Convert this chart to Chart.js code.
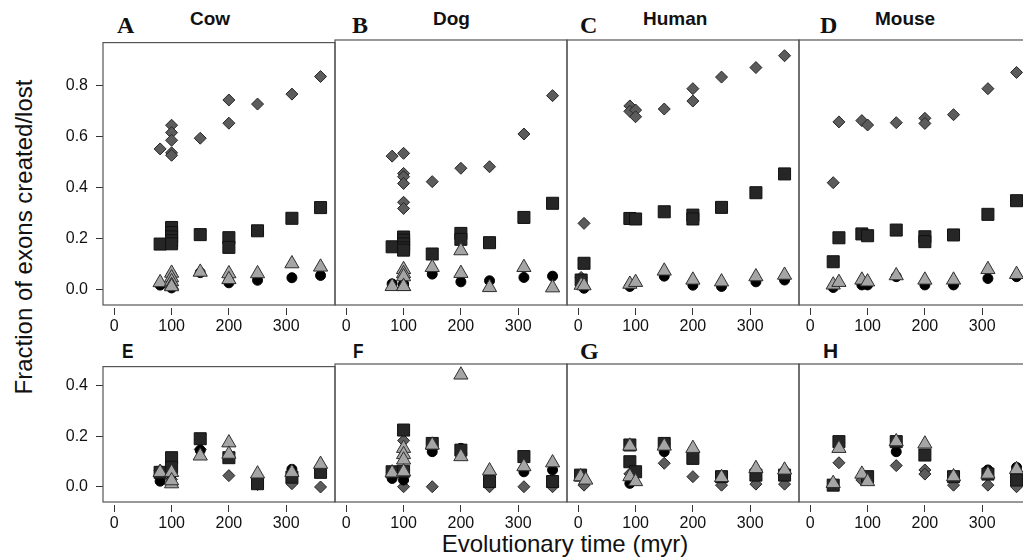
<!DOCTYPE html>
<html lang="en">
<head>
<meta charset="UTF-8">
<title>Fraction of exons created/lost</title>
<script src="https://cdn.jsdelivr.net/npm/chart.js"></script>
<style>
  html, body { margin: 0; padding: 0; overflow: hidden; background: #fff; }
  body { width: 1023px; height: 560px; position: relative; font-family: "Liberation Sans", Arial, sans-serif; color: #111; }
  canvas { position: absolute; }
  .lbl { position: absolute; white-space: nowrap; line-height: 1; }
  .title { font-weight: bold; font-size: 19px; }
  .serif { font-family: "Liberation Serif", serif; font-weight: bold; font-size: 24px; }
  .sans { font-weight: bold; font-size: 21px; }
  .narrow { transform: scaleX(0.82); transform-origin: left top; }
  .axis { font-size: 24px; }
</style>
</head>
<body>

<div class="lbl serif" style="left:117px; top:13px">A</div>
<div class="lbl title" style="left:190px; top:9px">Cow</div>
<div class="lbl serif" style="left:352px; top:13px">B</div>
<div class="lbl title" style="left:433px; top:9px">Dog</div>
<div class="lbl serif" style="left:580px; top:13px">C</div>
<div class="lbl title" style="left:643px; top:9px">Human</div>
<div class="lbl serif" style="left:820px; top:13px">D</div>
<div class="lbl title" style="left:875px; top:9px">Mouse</div>

<div class="lbl sans narrow" style="left:122px; top:340px">E</div>
<div class="lbl sans narrow" style="left:353px; top:340px">F</div>
<div class="lbl serif" style="left:580px; top:339px">G</div>
<div class="lbl sans" style="left:823px; top:340px">H</div>

<div class="lbl axis" style="left:365px; top:532px; width:400px; text-align:center">Evolutionary time (myr)</div>
<div class="lbl axis" style="left:-176px; top:225px; width:400px; height:24px; text-align:center; transform:rotate(-90deg)">Fraction of exons created/lost</div>

<script>
// [time (myr), fraction] for each panel and marker
// top row: A cow, B dog, C human, D mouse
const aDiam = [[80,0.55],[100,0.643],[100,0.614],[100,0.584],[100,0.535],[100,0.525],[150,0.592],[200,0.742],[200,0.651],[250,0.726],[310,0.765],[360,0.834]];
const aSq   = [[80,0.177],[100,0.242],[100,0.222],[100,0.205],[100,0.19],[100,0.178],[150,0.214],[200,0.202],[200,0.164],[250,0.229],[310,0.278],[360,0.32]];
const aTri  = [[80,0.026],[100,0.063],[100,0.045],[100,0.03],[100,0.015],[100,0.01],[150,0.067],[200,0.061],[200,0.038],[250,0.061],[310,0.10],[360,0.087]];
const aCirc = [[80,0.016],[100,0.055],[100,0.03],[100,0.02],[100,0.01],[100,0.005],[150,0.065],[200,0.03],[200,0.025],[250,0.035],[310,0.045],[360,0.054]];

const bDiam = [[80,0.516],[100,0.527],[100,0.449],[100,0.436],[100,0.41],[100,0.337],[100,0.313],[150,0.417],[200,0.469],[250,0.475],[310,0.602],[360,0.751]];
const bSq   = [[80,0.164],[100,0.202],[100,0.19],[100,0.175],[100,0.16],[100,0.151],[150,0.136],[200,0.216],[200,0.193],[250,0.18],[310,0.278],[360,0.333]];
const bTri  = [[80,0.01],[100,0.076],[100,0.06],[100,0.048],[100,0.01],[100,0.01],[150,0.084],[200,0.149],[200,0.061],[250,0.006],[310,0.084],[360,0.005]];
const bCirc = [[80,0.02],[100,0.02],[100,0.015],[150,0.058],[200,0.028],[250,0.032],[310,0.045],[360,0.05]];

const cDiam = [[5,0.045],[10,0.255],[90,0.711],[90,0.69],[100,0.695],[100,0.669],[150,0.699],[200,0.778],[200,0.73],[250,0.823],[310,0.86],[360,0.906]];
const cSq   = [[5,0.035],[10,0.10],[90,0.274],[100,0.272],[150,0.30],[200,0.287],[200,0.272],[250,0.317],[310,0.374],[360,0.447]];
const cTri  = [[5,0.015],[10,0.013],[90,0.019],[100,0.026],[150,0.07],[200,0.035],[250,0.028],[310,0.048],[360,0.054]];
const cCirc = [[10,0.003],[90,0.01],[150,0.05],[200,0.015],[250,0.01],[310,0.028],[360,0.035]];

const dDiam = [[40,0.413],[50,0.649],[90,0.654],[100,0.637],[150,0.646],[200,0.663],[200,0.643],[250,0.677],[310,0.778],[360,0.841]];
const dSq   = [[40,0.106],[50,0.199],[90,0.214],[100,0.207],[150,0.229],[200,0.203],[200,0.184],[250,0.21],[310,0.29],[360,0.343]];
const dTri  = [[40,0.016],[50,0.026],[90,0.035],[100,0.028],[150,0.052],[200,0.035],[250,0.035],[310,0.076],[360,0.057]];
const dCirc = [[40,0.006],[90,0.016],[100,0.016],[150,0.048],[200,0.016],[250,0.016],[310,0.041],[360,0.048]];

// bottom row: E cow, F dog, G human, H mouse
const eDiam = [[80,0.065],[100,0.03],[150,0.149],[200,0.045],[250,0.01],[310,0.013],[360,0.0]];
const eSq   = [[80,0.058],[100,0.116],[100,0.078],[150,0.191],[200,0.116],[250,0.013],[310,0.039],[360,0.058]];
const eTri  = [[80,0.058],[100,0.058],[100,0.013],[100,0.025],[150,0.123],[200,0.175],[200,0.13],[250,0.052],[310,0.058],[360,0.09]];
const eCirc = [[80,0.023],[100,0.05],[150,0.145],[200,0.12],[310,0.07]];

const fDiam = [[100,0.179],[100,0.0],[150,0.0],[200,0.13],[250,0.0],[310,0.0],[360,0.0]];
const fSq   = [[80,0.058],[100,0.22],[100,0.06],[150,0.168],[200,0.142],[250,0.02],[310,0.117],[360,0.02]];
const fTri  = [[80,0.054],[100,0.149],[100,0.125],[100,0.104],[100,0.058],[150,0.162],[200,0.434],[200,0.117],[250,0.062],[310,0.078],[360,0.093]];
const fCirc = [[80,0.032],[100,0.026],[150,0.136],[200,0.149],[310,0.058],[360,0.065]];

const gDiam = [[10,0.006],[90,0.05],[150,0.091],[200,0.039],[250,0.006],[310,0.01],[360,0.01]];
const gSq   = [[4,0.045],[90,0.162],[90,0.097],[100,0.058],[150,0.168],[200,0.11],[250,0.039],[310,0.045],[360,0.045]];
const gTri  = [[4,0.039],[13,0.026],[90,0.158],[90,0.039],[100,0.02],[150,0.158],[200,0.149],[250,0.036],[310,0.071],[360,0.065]];
const gCirc = [[90,0.013],[150,0.136],[310,0.06],[360,0.06]];

const hDiam = [[50,0.093],[90,0.026],[150,0.082],[200,0.065],[200,0.049],[250,0.006],[310,0.006],[360,0.0]];
const hSq   = [[40,0.006],[50,0.175],[100,0.039],[150,0.175],[200,0.123],[250,0.039],[310,0.049],[360,0.026]];
const hTri  = [[40,0.013],[50,0.149],[90,0.049],[100,0.02],[150,0.175],[200,0.166],[250,0.039],[310,0.049],[360,0.067]];
const hCirc = [[150,0.136],[310,0.065],[360,0.075]];

const xTickVals = [0, 100, 200, 300];
const yTickValsTop = [0, 0.2, 0.4, 0.6, 0.8];
const yTickValsBottom = [0, 0.2, 0.4];

const panelLeft = [103, 335, 567, 799];
const W = 232;

const frame = {
  id: 'frame',
  beforeDatasetsDraw(chart) {
    const { ctx, chartArea: a } = chart;
    ctx.save();
    ctx.strokeStyle = '#555';
    ctx.lineWidth = 1.2;
    ctx.strokeRect(a.left, a.top, a.right - a.left, a.bottom - a.top);
    ctx.restore();
  }
};

function toPts(arr) {
  return arr.map(p => ({ x: p[0], y: p[1] }));
}

function makePanel(col, row, diam, sq, tri, circ) {
  const L = panelLeft[col];
  const T = row === 0 ? 40 : 364;
  const H = row === 0 ? 265 : 138;
  const yMin = row === 0 ? -0.062 : -0.0594;
  const yMax = row === 0 ? 0.967 : 0.4765;
  const yTicks = row === 0 ? yTickValsTop : yTickValsBottom;
  const showY = col === 0;
  const padL = 70, padT = 15, padR = 15, axisH = 40;

  const canvas = document.createElement('canvas');
  canvas.width = padL + W + padR;
  canvas.height = padT + H + axisH;
  canvas.style.left = (L - padL) + 'px';
  canvas.style.top = (T - padT) + 'px';
  document.body.appendChild(canvas);

  const tickFont = { family: '"Liberation Sans", Arial, sans-serif', size: 16 };

  new Chart(canvas, {
    type: 'scatter',
    data: {
      datasets: [
        { data: toPts(tri), pointStyle: 'triangle', pointRadius: 8.2, backgroundColor: '#a5a5a5', borderColor: '#2e2e2e', borderWidth: 1, order: 0 },
        { data: toPts(sq), pointStyle: 'rect', pointRadius: 8.5, backgroundColor: '#262626', borderColor: '#111', borderWidth: 1, order: 1 },
        { data: toPts(circ), pointStyle: 'circle', pointRadius: 5, backgroundColor: '#000', borderColor: '#000', borderWidth: 1, order: 2 },
        { data: toPts(diam), pointStyle: 'rectRot', pointRadius: 6, backgroundColor: '#5c5c5c', borderColor: '#262626', borderWidth: 1, order: 3 }
      ]
    },
    options: {
      responsive: false,
      animation: false,
      clip: false,
      events: [],
      layout: { padding: { left: showY ? 0 : padL, top: padT, right: padR, bottom: 0 } },
      plugins: { legend: { display: false }, tooltip: { enabled: false } },
      scales: {
        x: {
          type: 'linear',
          min: -19.7,
          max: 385.2,
          afterBuildTicks: s => { s.ticks = xTickVals.map(v => ({ value: v })); },
          afterFit: s => { s.height = axisH; },
          border: { display: false },
          grid: { drawOnChartArea: false, tickLength: 10, tickColor: '#333', tickWidth: 1, tickBorderDash: [7, 100], tickBorderDashOffset: 104 },
          ticks: { autoSkip: false, maxRotation: 0, padding: 2, color: '#111', font: tickFont, callback: v => String(v) }
        },
        y: {
          display: showY,
          min: yMin,
          max: yMax,
          afterBuildTicks: s => { s.ticks = yTicks.map(v => ({ value: v })); },
          afterFit: s => { if (showY) s.width = padL; },
          border: { display: false },
          grid: { drawOnChartArea: false, tickLength: 7, tickColor: '#333', tickWidth: 1 },
          ticks: { autoSkip: false, padding: 8, color: '#111', font: tickFont, callback: v => v.toFixed(1) }
        }
      }
    },
    plugins: [frame]
  });
}

makePanel(0, 0, aDiam, aSq, aTri, aCirc);
makePanel(1, 0, bDiam, bSq, bTri, bCirc);
makePanel(2, 0, cDiam, cSq, cTri, cCirc);
makePanel(3, 0, dDiam, dSq, dTri, dCirc);
makePanel(0, 1, eDiam, eSq, eTri, eCirc);
makePanel(1, 1, fDiam, fSq, fTri, fCirc);
makePanel(2, 1, gDiam, gSq, gTri, gCirc);
makePanel(3, 1, hDiam, hSq, hTri, hCirc);
</script>
</body>
</html>
